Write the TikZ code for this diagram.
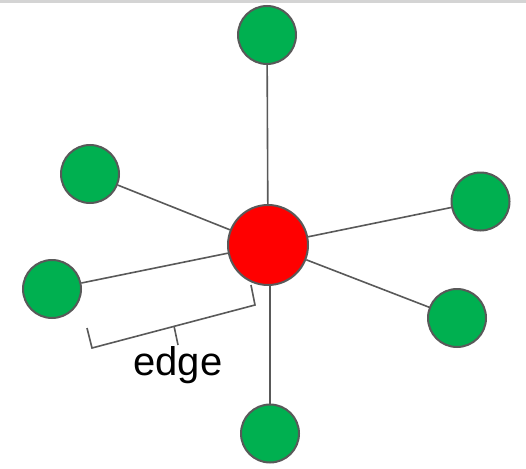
\documentclass[tikz,border=0pt]{standalone}
\usepackage{fontspec}
\setmainfont{Liberation Sans}
\definecolor{leafgreen}{HTML}{00B050}
\definecolor{hubred}{HTML}{FF0000}
\definecolor{linegray}{HTML}{595959}
\definecolor{bandgray}{HTML}{D4D4D4}
\begin{document}
\begin{tikzpicture}[x=1pt,y=-1pt,
  leaf/.style={circle,draw=linegray,line width=2pt,fill=leafgreen,minimum size=58pt,inner sep=0pt},
  hub/.style={circle,draw=linegray,line width=2pt,fill=hubred,minimum size=80pt,inner sep=0pt},
  spoke/.style={draw=linegray,line width=1.6pt},
  brace/.style={draw=linegray,line width=1.6pt}]
\useasboundingbox (0,0) rectangle (526,468);
\fill[bandgray] (0,0) rectangle (526,3);
\node[hub] (c) at (268,245) {};
\node[leaf] (t) at (267,35) {};
\node[leaf] (ul) at (90,174) {};
\node[leaf] (l) at (52,289) {};
\node[leaf] (r) at (480.5,201.5) {};
\node[leaf] (lr) at (457,318) {};
\node[leaf] (b) at (270,433.5) {};
\draw[spoke] (c) -- (t);
\draw[spoke] (c) -- (ul);
\draw[spoke] (c) -- (l);
\draw[spoke] (c) -- (r);
\draw[spoke] (c) -- (lr);
\draw[spoke] (c.south -| b) -- (b);
\coordinate (k1) at (87,328);
\coordinate (k2) at (92,348);
\coordinate (k3) at (255,305);
\coordinate (k4) at (251,285);
\coordinate (m1) at (174,326);
\coordinate (m2) at (178,345);
\draw[brace] (k1) -- (k2) -- (k3) -- (k4);
\draw[brace] (m1) -- (m2);
\node[font=\fontsize{40}{48}\selectfont,inner sep=0pt] (lab) at (178,365) {edge};
\end{tikzpicture}
\end{document}
